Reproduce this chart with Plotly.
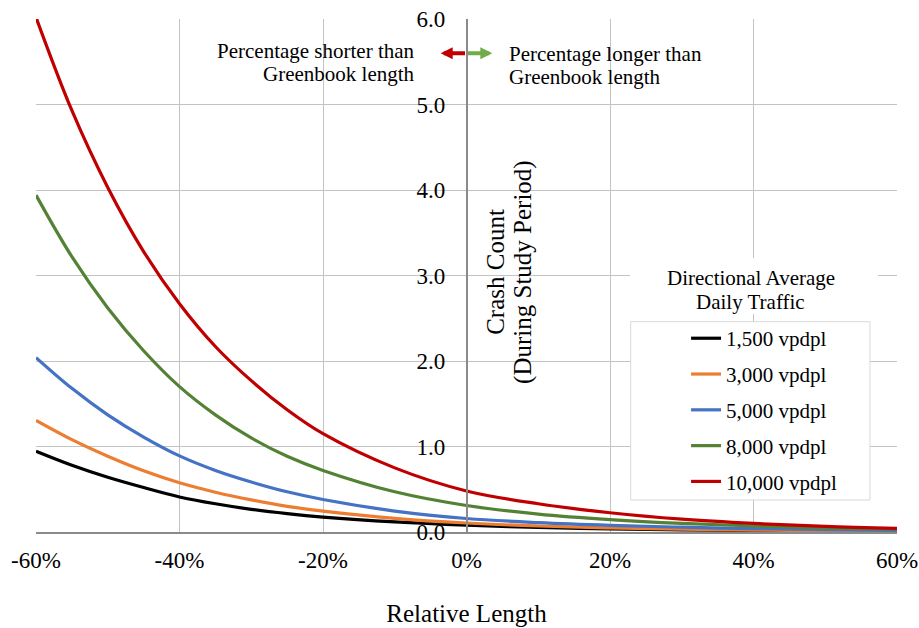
import plotly.graph_objects as go

# ---- data ----
relative_length = [-0.60, -0.55, -0.50, -0.45, -0.40, -0.35, -0.30, -0.25, -0.20,
                   -0.10, 0.00, 0.10, 0.20, 0.30, 0.40, 0.50, 0.60]

crash_1500 = [0.944, 0.78, 0.64, 0.52, 0.41, 0.33, 0.265, 0.215, 0.175,
              0.118, 0.08, 0.054, 0.037, 0.026, 0.018, 0.012, 0.008]
crash_3000 = [1.305, 1.08, 0.885, 0.715, 0.575, 0.465, 0.375, 0.30, 0.245,
              0.16, 0.105, 0.07, 0.048, 0.033, 0.023, 0.016, 0.011]
crash_5000 = [2.04, 1.68, 1.37, 1.11, 0.89, 0.72, 0.585, 0.47, 0.38,
              0.245, 0.158, 0.11, 0.078, 0.056, 0.04, 0.028, 0.02]
crash_8000 = [3.94, 3.22, 2.62, 2.12, 1.70, 1.37, 1.10, 0.885, 0.72,
              0.47, 0.31, 0.21, 0.145, 0.10, 0.07, 0.048, 0.032]
crash_10000 = [6.02, 4.93, 4.03, 3.28, 2.67, 2.17, 1.77, 1.43, 1.15,
               0.75, 0.48, 0.33, 0.225, 0.15, 0.10, 0.065, 0.042]

series_names = ["1,500 vpdpl", "3,000 vpdpl", "5,000 vpdpl", "8,000 vpdpl", "10,000 vpdpl"]
series_colors = ["#000000", "#ED7D31", "#4472C4", "#548235", "#C00000"]
series_values = [crash_1500, crash_3000, crash_5000, crash_8000, crash_10000]

x_tick_vals = [-0.6, -0.4, -0.2, 0.0, 0.2, 0.4, 0.6]
x_tick_labels = ["-60%", "-40%", "-20%", "0%", "20%", "40%", "60%"]
y_tick_vals = [0, 1, 2, 3, 4, 5, 6]
y_tick_labels = ["0.0", "1.0", "2.0", "3.0", "4.0", "5.0", "6.0"]

FONT = "Liberation Serif, Times New Roman, serif"
GRID = "#c3c3c3"
AXIS = "#8a8a8a"

fig = go.Figure()
for name, color, vals in zip(series_names, series_colors, series_values):
    fig.add_trace(go.Scatter(
        x=relative_length, y=vals, mode="lines", name=name,
        legendgroup=name,
        line=dict(color=color, width=3.2, shape="spline", smoothing=1.0),
    ))

fig.update_layout(
    width=919, height=628,
    margin=dict(l=36, r=22, t=19, b=96, autoexpand=False),
    paper_bgcolor="white", plot_bgcolor="white",
    font=dict(family=FONT, color="#000000"),
    showlegend=True,
    legend=dict(
        x=0.755, y=0.417, xanchor="left", yanchor="top",
        bgcolor="rgba(0,0,0,0)", borderwidth=0,
        font=dict(size=21, family=FONT),
        tracegroupgap=5.5,
    ),
    xaxis=dict(
        range=[-0.6, 0.6], tickvals=x_tick_vals, ticktext=x_tick_labels,
        showgrid=True, gridcolor=GRID, gridwidth=1,
        showline=True, linecolor=AXIS, linewidth=1.5,
        zeroline=False, ticks="", tickfont=dict(size=23),
        ticklabelstandoff=7, automargin=False, ticklabeloverflow="allow",
        title=dict(text="Relative Length", font=dict(size=25), standoff=32),
        fixedrange=True,
    ),
    yaxis=dict(
        range=[0, 6], tickvals=y_tick_vals, ticktext=y_tick_labels,
        anchor="free", position=0.5, side="left",
        showgrid=True, gridcolor=GRID, gridwidth=1,
        showline=True, linecolor=AXIS, linewidth=1.5,
        zeroline=False, ticks="", tickfont=dict(size=23),
        ticklabelstandoff=16, automargin=False, ticklabeloverflow="allow",
        fixedrange=True,
    ),
    shapes=[
        # white backing behind legend title
        dict(type="rect", xref="paper", yref="paper", x0=0.690, x1=0.978, y0=0.425, y1=0.534,
             fillcolor="white", line=dict(width=0), layer="above"),
        # legend box
        dict(type="rect", xref="paper", yref="paper", x0=0.6907, x1=0.9686, y0=0.0624, y1=0.410,
             fillcolor="white", line=dict(color="#d9d9d9", width=1), layer="above"),
    ],
)

ann = []
# y-axis title (two rotated lines to the right of the axis)
ann.append(dict(x=0.0394, y=3.04, xref="x", yref="y", text="Crash Count", textangle=-90,
                showarrow=False, font=dict(size=25), xanchor="center", yanchor="middle"))
ann.append(dict(x=0.0785, y=3.04, xref="x", yref="y", text="(During Study Period)", textangle=-90,
                showarrow=False, font=dict(size=25), xanchor="center", yanchor="middle"))
# direction arrows
ann.append(dict(x=-0.036, y=5.60, ax=0, ay=5.60, xref="x", yref="y", axref="x", ayref="y",
                text="", showarrow=True, arrowhead=2, arrowsize=0.6, arrowwidth=4,
                arrowcolor="#C00000", standoff=0, startstandoff=0))
ann.append(dict(x=0.036, y=5.60, ax=0, ay=5.60, xref="x", yref="y", axref="x", ayref="y",
                text="", showarrow=True, arrowhead=2, arrowsize=0.6, arrowwidth=4,
                arrowcolor="#70AD47", standoff=0, startstandoff=0))
# arrow texts
ann.append(dict(x=-0.0693, y=5.63, xref="x", yref="y", text="Percentage shorter than",
                showarrow=False, font=dict(size=21), xanchor="right", yanchor="middle"))
ann.append(dict(x=-0.0693, y=5.355, xref="x", yref="y", text="Greenbook length",
                showarrow=False, font=dict(size=21), xanchor="right", yanchor="middle"))
ann.append(dict(x=0.0566, y=5.595, xref="x", yref="y", text="Percentage longer than",
                showarrow=False, font=dict(size=21), xanchor="left", yanchor="middle"))
ann.append(dict(x=0.0566, y=5.32, xref="x", yref="y", text="Greenbook length",
                showarrow=False, font=dict(size=21), xanchor="left", yanchor="middle"))
# legend title
ann.append(dict(x=0.396, y=2.975, xref="x", yref="y", text="Directional Average",
                showarrow=False, font=dict(size=21), xanchor="center", yanchor="middle"))
ann.append(dict(x=0.396, y=2.69, xref="x", yref="y", text="Daily Traffic",
                showarrow=False, font=dict(size=21), xanchor="center", yanchor="middle"))
fig.update_layout(annotations=ann)

# remove the default 8px page margin so the 919x628 figure fills the window exactly
fig.write_html("out.html", config={"displayModeBar": False},
               post_script="document.body.style.margin='0px';")
